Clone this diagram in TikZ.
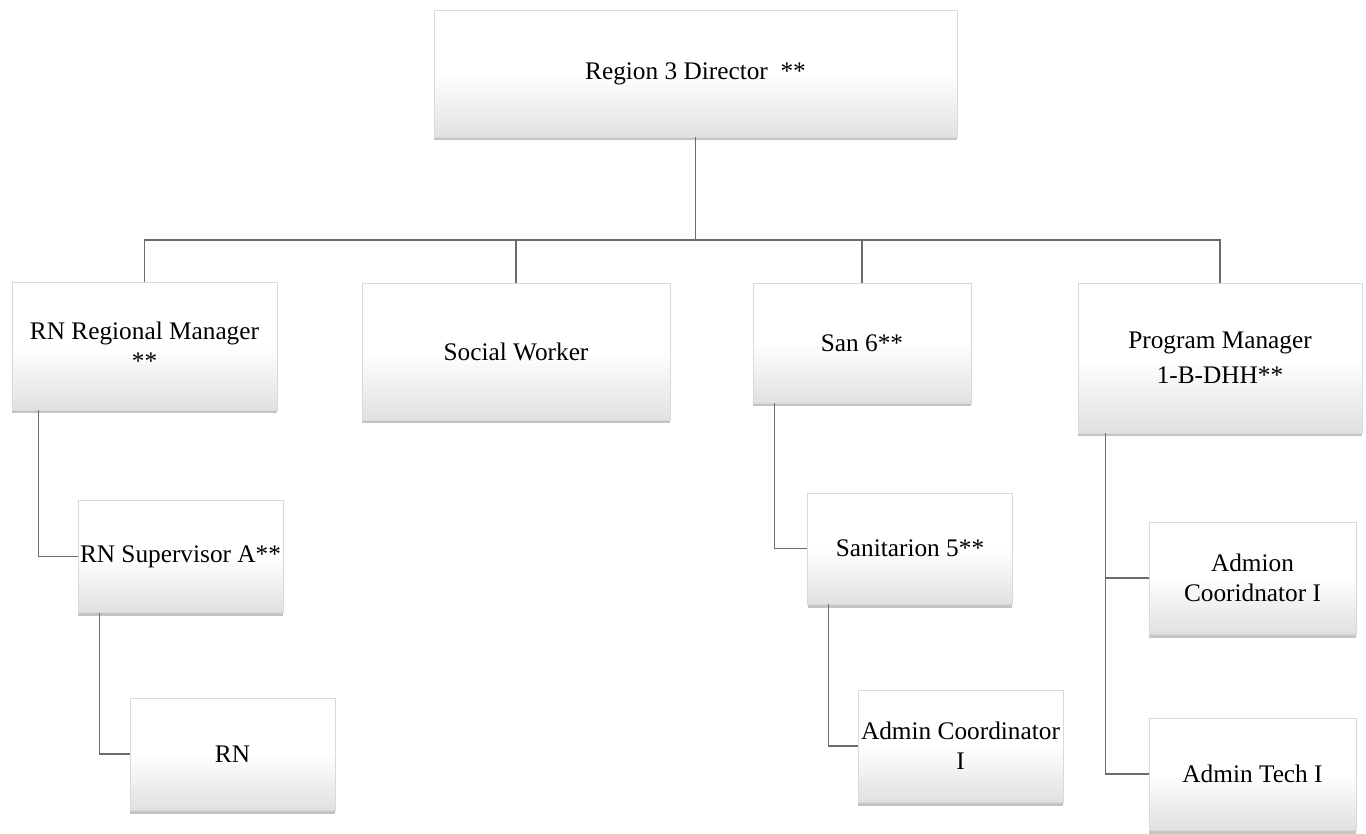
\documentclass[tikz,border=0pt]{standalone}
\usepackage{fontspec}
\setmainfont{Liberation Serif}
\newfontfamily\orgfont{Liberation Serif}
\usetikzlibrary{shadows,calc}

\begin{document}
\begin{tikzpicture}[
        x=0.02cm, y=-0.02cm,
        orgbox/.style = {rectangle, draw=gray!30, line width=0.3pt, top color=white, bottom color=gray!24, middle color=white,
                align=center, inner sep=0pt, font=\orgfont\fontsize{14.4}{17}\selectfont,
                drop shadow={shadow xshift=0pt, shadow yshift=-0.07cm, opacity=0.55, fill=gray!85}},
        subbox/.style = {orgbox, minimum width=4.1cm, minimum height=2.24cm},
        link/.style = {draw=gray!85!black, line width=0.8pt}
        ]
        \useasboundingbox (0,0) rectangle (1366,833);
        \node[orgbox, minimum width=10.46cm, minimum height=2.54cm] (dir) at (695.5,73.5) {Region 3 Director \ **};
        \node[orgbox, minimum width=5.3cm, minimum height=2.56cm] (rnrm) at (144.5,346) {RN Regional Manager\\**};
        \node[orgbox, minimum width=6.16cm, minimum height=2.74cm] (sw) at (516,351.5) {Social Worker};
        \node[orgbox, minimum width=4.36cm, minimum height=2.4cm] (san6) at (862,343) {San 6**};
        \node[orgbox, minimum width=5.68cm, minimum height=3cm] (pm) at (1220,358) {Program Manager\\[3pt]1-B-DHH**};
        \node[subbox] (rnsup) at (180.5,556.5) {RN Supervisor A**};
        \node[subbox] (rn) at (232.5,754) {RN};
        \node[subbox, minimum height=2.22cm] (san5) at (910,548.5) {Sanitarion 5**};
        \node[subbox] (ac1) at (960.5,746) {Admin Coordinator\\I};
        \node[subbox, minimum width=4.14cm] (admion) at (1252.5,578) {Admion\\Cooridnator I};
        \node[subbox, minimum width=4.14cm] (tech) at (1252.5,774) {Admin Tech I};

        \coordinate (bus) at (0,240);
        \draw[link] (dir.south) -- (dir.south |- bus);
        \foreach \n in {rnrm,sw,san6,pm}
                \draw[link] (dir.south |- bus) -| (\n.north);
        \draw[link] ($(rnrm.south west)+(27,0)$) |- (rnsup.west);
        \draw[link] ($(rnsup.south west)+(22,0)$) |- (rn.west);
        \draw[link] ($(san6.south west)+(22,0)$) |- (san5.west);
        \draw[link] ($(san5.south west)+(21,0)$) |- (ac1.west);
        \draw[link] ($(pm.south west)+(28,0)$) |- (admion.west);
        \draw[link] ($(pm.south west)+(28,0)$) |- (tech.west);
\end{tikzpicture}
\end{document}
